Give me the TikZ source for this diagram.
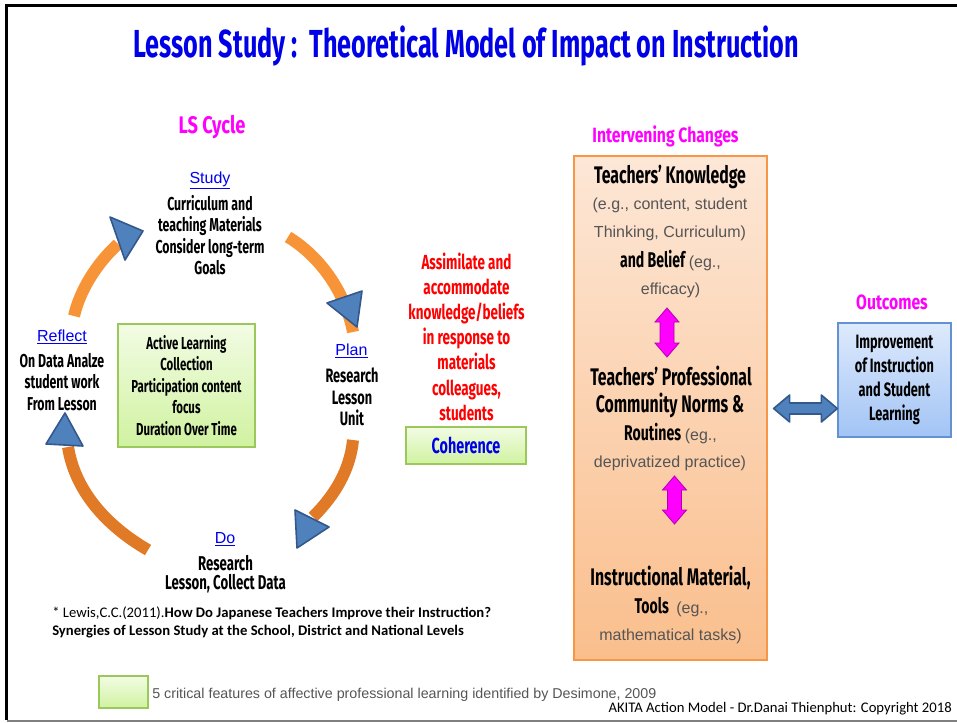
\documentclass[tikz,border=0pt]{standalone}
\usepackage{fontspec}
\setmainfont{Liberation Sans}
\newfontfamily\handf{Fira Sans}[FakeStretch=0.66]
\newfontfamily\hdrf{Fira Sans}[FakeStretch=0.76]
\newfontfamily\titlef{Fira Sans}[FakeStretch=0.645]
\newfontfamily\calib{Carlito}
\usetikzlibrary{calc}
\definecolor{ttblue}{RGB}{0,0,230}
\definecolor{mag}{RGB}{255,0,255}
\definecolor{lnk}{RGB}{0,0,238}
\definecolor{org1}{RGB}{247,148,55}
\definecolor{org2}{RGB}{224,122,38}
\definecolor{stb}{RGB}{79,129,189}
\definecolor{stbd}{RGB}{52,88,140}
\definecolor{grn1}{RGB}{242,252,228}
\definecolor{grn2}{RGB}{208,242,160}
\definecolor{grnb}{RGB}{155,200,90}
\definecolor{pch1}{RGB}{253,231,214}
\definecolor{pch2}{RGB}{250,190,140}
\definecolor{pchb}{RGB}{247,150,70}
\definecolor{blu1}{RGB}{222,234,252}
\definecolor{blu2}{RGB}{162,196,245}
\definecolor{blub}{RGB}{100,145,210}
\definecolor{gtxt}{RGB}{85,85,85}
\definecolor{red1}{RGB}{255,0,0}
\begin{document}
\begin{tikzpicture}[x=0.75pt,y=-0.75pt,
  txt/.style={inner sep=0pt, align=center},
  hnd/.style={txt, font=\handf\bfseries\fontsize{14}{16.1}\selectfont},
  lnkst/.style={txt, text=lnk, font=\fontsize{12}{14}\selectfont},
  gry/.style={txt, text=gtxt, font=\fontsize{12}{14}\selectfont},
  hdr/.style={txt, text=mag, font=\hdrf\bfseries\fontsize{15.5}{18}\selectfont},
  grnbox/.style={draw=grnb, line width=1pt, top color=grn1, bottom color=grn2, inner sep=0pt, align=center},
  arcband/.style={line width=9pt, line cap=butt},
  ahead/.style={fill=stb, draw=stbd, line width=1.2pt, line join=round},
  magarrow/.style={fill=mag, draw=mag!70!black, line width=0.6pt},
  bluarrow/.style={fill=stb, draw=stbd, line width=1.2pt, line join=round},
  big/.style={txt, font=\handf\bfseries\fontsize{18}{20}\selectfont},
]
\useasboundingbox (0,0) rectangle (957,722);
% frame
\draw[black, line width=2pt] (6.5,720) -- (6.5,5.5) -- (957,5.5);
\draw[gray, line width=1.5pt] (6.5,720.5) -- (957,720.5);

% title
\node[txt, text=ttblue, font=\titlef\bfseries\fontsize{29.3}{32}\selectfont, anchor=base] (title) at (466,57) {Lesson Study :\ \ Theoretical Model of Impact on Instruction};

% LS cycle
\node[hdr, font=\hdrf\bfseries\fontsize{18}{20}\selectfont, anchor=base] (lscyc) at (212,133) {LS Cycle};

\draw[arcband, org1] (74,316) .. controls (80,290) and (97,263) .. (118,244);
\draw[arcband, org1] (288,237) .. controls (318,255) and (345,290) .. (353,332);
\draw[arcband, org2] (353,440) .. controls (350,470) and (335,495) .. (313,517);
\draw[arcband, org2] (68,447) .. controls (75,490) and (105,525) .. (148,550);
\filldraw[ahead] (110,217) -- (143,231) -- (125,260) -- cycle;
\filldraw[ahead] (327,303) -- (362,291) -- (357,327) -- cycle;
\filldraw[ahead] (295,510) -- (329,527) -- (297,548) -- cycle;
\filldraw[ahead] (46,444) -- (83,446) -- (65,413) -- cycle;

\node[lnkst, anchor=base] (study) at (210,183) {\underline{Study}};
\node[hnd] (studyt) at (210,235) {Curriculum and\\teaching Materials\\Consider long-term\\Goals};
\node[lnkst, anchor=base] (plan) at (351.5,355) {\underline{Plan}};
\node[hnd, font=\handf\bfseries\fontsize{14.5}{16.1}\selectfont] (plant) at (352,397) {Research\\Lesson\\Unit};
\node[lnkst, anchor=base] (do) at (225,543) {\underline{Do}};
\node[hnd, font=\handf\bfseries\fontsize{15}{14.3}\selectfont] (dot) at (225.5,574.5) {Research\\Lesson, Collect Data};
\node[lnkst, anchor=base] (refl) at (62,341) {\underline{Reflect}};
\node[hnd] (reflt) at (62,382) {On Data Analze\\student work\\From Lesson};

\node[grnbox, minimum width=102.75pt, minimum height=92.25pt, font=\handf\bfseries\fontsize{13}{16.1}\selectfont] (act) at (186.5,385.5) {Active Learning\\Collection\\Participation content\\focus\\Duration Over Time};

% middle
\node[txt, text=red1, font=\handf\bfseries\fontsize{15.3}{18.9}\selectfont] (assim) at (466.5,336.5) {Assimilate and\\accommodate\\knowledge/beliefs\\in response to\\materials\\colleagues,\\students};
\node[grnbox, minimum width=90pt, minimum height=27.75pt, text=ttblue, font=\handf\bfseries\fontsize{16.3}{18}\selectfont] (coh) at (466,445.5) {Coherence};

% intervening changes
\node[hdr, anchor=base] (ivc) at (665.5,142) {Intervening Changes};
\node[draw=pchb, line width=1pt, top color=pch1, bottom color=pch2, minimum width=144.75pt, minimum height=378pt, inner sep=0pt] (ic) at (670.5,408) {};
\node[big, anchor=base] (k1) at (670,183) {Teachers’ Knowledge};
\node[gry, anchor=base] (k2) at (670,209) {(e.g., content, student};
\node[gry, anchor=base] (k3) at (670,237) {Thinking, Curriculum)};
\node[txt, anchor=base] (k4) at (670.5,267) {{\handf\bfseries\fontsize{16}{18}\selectfont and Belief} {\color{gtxt}\fontsize{12}{14}\selectfont(eg.,}};
\node[gry, anchor=base] (k5) at (670.5,294) {efficacy)};
\node[big, anchor=base] (p1) at (671,385) {Teachers’ Professional};
\node[big, anchor=base] (p2) at (670,412) {Community Norms \&};
\node[txt, anchor=base] (p3) at (670.5,440) {{\handf\bfseries\fontsize{16}{18}\selectfont Routines} {\color{gtxt}\fontsize{12}{14}\selectfont(eg.,}};
\node[gry, anchor=base] (p4) at (670,467) {deprivatized practice)};
\node[big, anchor=base] (t1) at (670.5,585) {Instructional Material,};
\node[txt, anchor=base] (t2) at (671.5,613) {{\handf\bfseries\fontsize{16}{18}\selectfont Tools}\ \ {\color{gtxt}\fontsize{12}{14}\selectfont(eg.,}};
\node[gry, anchor=base] (t3) at (670.5,640) {mathematical tasks)};

\coordinate (m1a) at (667,308);
\coordinate (m1b) at (667,357);
\coordinate (m2a) at (674.5,476);
\coordinate (m2b) at (674.5,524);
\filldraw[magarrow] (m1a) -- ($(m1a)+(12,14)$) -- ($(m1a)+(7,14)$) -- ($(m1b)+(7,-14)$) -- ($(m1b)+(12,-14)$) -- (m1b) -- ($(m1b)+(-12,-14)$) -- ($(m1b)+(-7,-14)$) -- ($(m1a)+(-7,14)$) -- ($(m1a)+(-12,14)$) -- cycle;
\filldraw[magarrow] (m2a) -- ($(m2a)+(12,14)$) -- ($(m2a)+(7,14)$) -- ($(m2b)+(7,-14)$) -- ($(m2b)+(12,-14)$) -- (m2b) -- ($(m2b)+(-12,-14)$) -- ($(m2b)+(-7,-14)$) -- ($(m2a)+(-7,14)$) -- ($(m2a)+(-12,14)$) -- cycle;

% outcomes
\node[hdr, anchor=base] (outc) at (892,309) {Outcomes};
\node[draw=blub, line width=1pt, top color=blu1, bottom color=blu2, minimum width=84.75pt, minimum height=85.5pt, inner sep=0pt, align=center, font=\handf\bfseries\fontsize{14.5}{18.2}\selectfont] (out) at (894.5,380) {Improvement\\of Instruction\\and Student\\Learning};

\coordinate (ba1) at ($(ic.east)+(6,0.5)$);
\coordinate (ba2) at (out.west |- ba1);
\filldraw[bluarrow] (ba1) -- ($(ba1)+(16,-13.5)$) -- ($(ba1)+(16,-5.5)$) -- ($(ba2)+(-16,-5.5)$) -- ($(ba2)+(-16,-13.5)$) -- (ba2) -- ($(ba2)+(-16,13.5)$) -- ($(ba2)+(-16,5.5)$) -- ($(ba1)+(16,5.5)$) -- ($(ba1)+(16,13.5)$) -- cycle;

% citation and footer
\node[txt, anchor=base west, font=\calib\fontsize{11}{13}\selectfont] (cite1) at (52,617) {* Lewis,C.C.(2011).\textbf{How Do Japanese Teachers Improve their Instruction?}};
\node[txt, anchor=base west, font=\calib\bfseries\fontsize{11}{13}\selectfont] (cite2) at (52,635) {Synergies of Lesson Study at the School, District and National Levels};
\node[grnbox, minimum width=36.75pt, minimum height=24pt] (leg) at (123.5,692) {};
\node[txt, anchor=base west, text=gtxt, font=\fontsize{10.7}{12}\selectfont] (legt) at (152,698) {5 critical features of affective professional learning identified by Desimone, 2009};
\node[txt, anchor=base east, font=\calib\fontsize{11}{13}\selectfont] (copy) at (952,712) {AKITA Action Model - Dr.Danai Thienphut: Copyright 2018};
\end{tikzpicture}
\end{document}
